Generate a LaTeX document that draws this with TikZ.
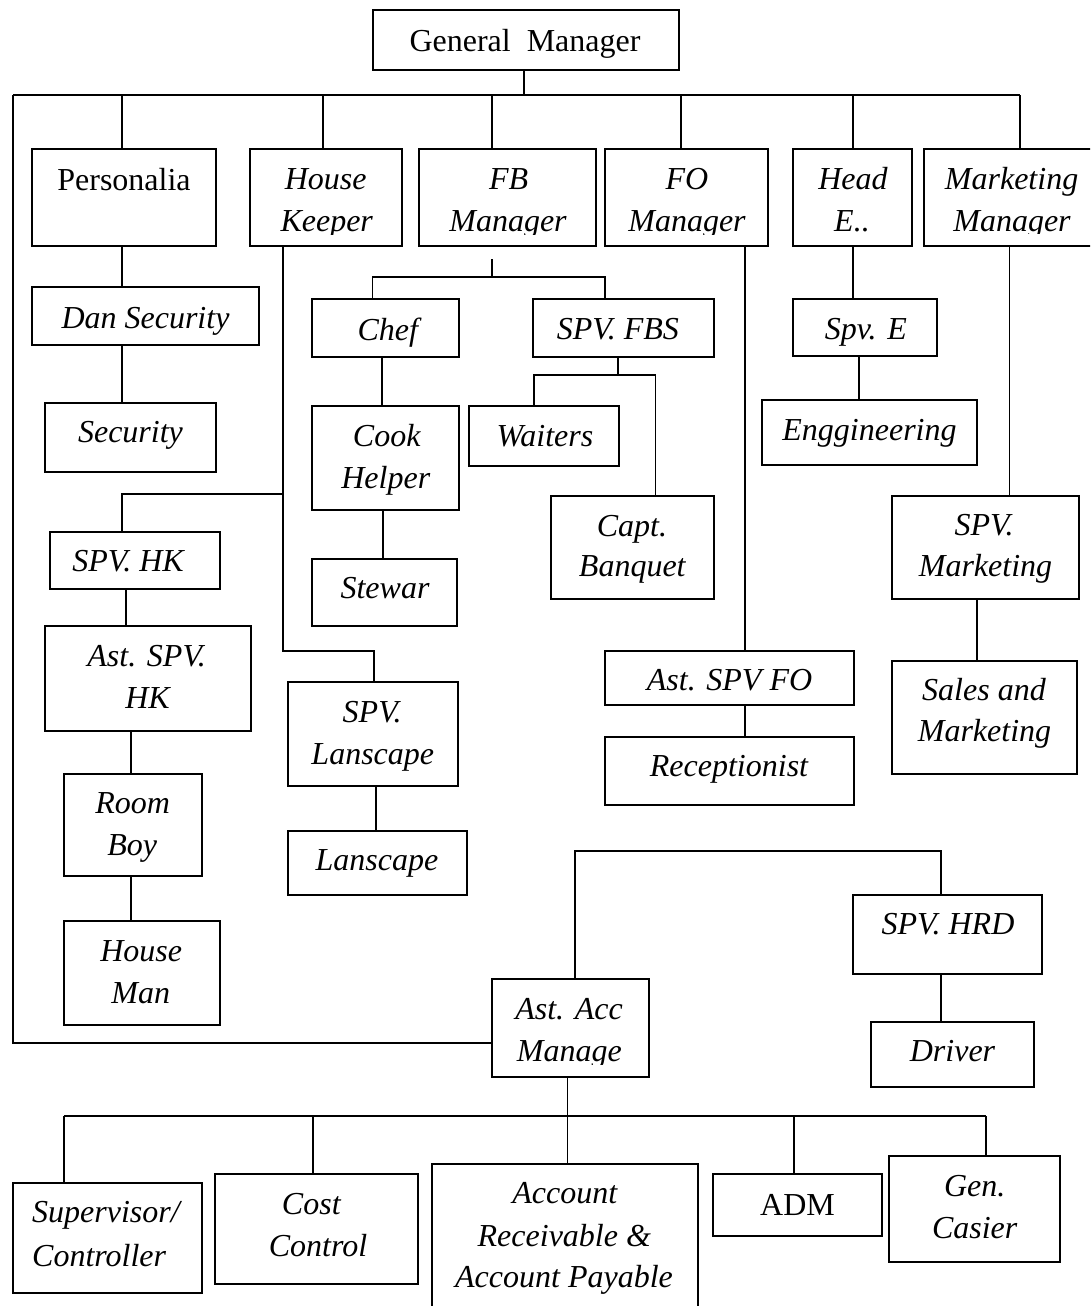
\documentclass[tikz,border=0pt]{standalone}
\usepackage{fontspec}
\setmainfont{Liberation Serif}
\usetikzlibrary{fit}
\tikzset{
  bx/.style={draw, line width=2pt, inner sep=0pt},
  ln/.style={line width=1.9pt},
  ti/.style={inner sep=0pt, anchor=base, font=\fontsize{32}{40}\selectfont\itshape},
  tu/.style={inner sep=0pt, anchor=base, font=\fontsize{32}{40}\selectfont},
}
\newcommand\obox[5]{\node[bx, fit={(#2,#3) (#4,#5)}] (#1) {};}
\newcommand\itx[4]{\node[ti] (#1) at (#2,#3) {#4};}
\newcommand\ctx[5]{\begin{scope}\clip ({#2-110},{#3-40}) rectangle ({#2+110},#5);\node[ti] (#1) at (#2,#3) {#4};\end{scope}}
\begin{document}
\begin{tikzpicture}[x=1pt,y=-1pt]
\useasboundingbox (0,0) rectangle (1090,1306);
\clip (0,0) rectangle (1090,1306);
% ---------- boxes ----------
\obox{gm}{372.6}{10.3}{679.2}{69.7}
\obox{pers}{31.6}{149}{215.5}{246}
\obox{hk}{250.3}{149}{401.5}{246}
\obox{fb}{419}{149}{596.4}{246}
\obox{fo}{604.8}{149}{767.8}{246}
\obox{he}{793.2}{149}{911.7}{246}
\obox{mkt}{924}{149}{1100}{246}
\obox{dsec}{31.7}{287.3}{259}{344.7}
\obox{sec}{45.3}{403}{215.7}{472.3}
\obox{chef}{312.3}{299.3}{458.7}{356.7}
\obox{fbs}{533.3}{299.3}{714}{356.7}
\obox{spve}{793.3}{299.3}{937}{356.3}
\obox{cook}{312.3}{406.3}{458.7}{510.3}
\obox{waiters}{469.3}{406.3}{619}{465.7}
\obox{engg}{762.3}{399.8}{977.3}{465.4}
\obox{capt}{550.7}{495.7}{714}{599}
\obox{spvmkt}{891.7}{495.5}{1079}{599}
\obox{spvhk}{49.7}{531.7}{220}{589}
\obox{stewar}{312.3}{559}{456.7}{626.3}
\obox{astspvhk}{45.3}{626.3}{250.7}{730.7}
\obox{astfo}{604.7}{650.6}{854}{704.6}
\obox{sales}{891.7}{661.4}{1077.3}{773.7}
\obox{spvlan}{288.3}{682}{458.3}{785.7}
\obox{recep}{604.7}{736.8}{854}{804.7}
\obox{roomboy}{63.7}{773.7}{201.7}{876}
\obox{lan}{288.3}{830.7}{467.3}{895}
\obox{housem}{63.7}{921}{220}{1024.7}
\obox{spvhrd}{853.3}{894.7}{1042.2}{974.3}
\obox{aam}{491.7}{979.3}{648.8}{1076.7}
\obox{driver}{870.8}{1021.7}{1033.7}{1086.7}
\obox{sup}{12.7}{1183.3}{201.7}{1293.3}
\obox{cost}{215}{1174}{417.7}{1284}
\obox{acct}{431.7}{1164}{698.3}{1340}
\obox{adm}{713.3}{1174}{882}{1235.7}
\obox{gen}{889}{1155.7}{1059.7}{1261.7}
% ---------- texts ----------
\node[tu] (gm-t) at (525,51.7) {General~ Manager};
\node[tu] (pers-t) at (124,190) {Personalia};
\itx{hk-t1}{325.7}{189.5}{House}
\ctx{hk-t2}{326.7}{231.5}{Keeper}{234}
\itx{fb-t1}{508.7}{189.5}{FB}
\ctx{fb-t2}{508}{231.5}{Manager}{234}
\itx{fo-t1}{687}{189.5}{FO}
\ctx{fo-t2}{687}{231.5}{Manager}{234}
\itx{he-t1}{853}{189.5}{Head}
\itx{he-t2}{852}{231.5}{E..}
\itx{mkt-t1}{1011.6}{189.5}{Marketing}
\ctx{mkt-t2}{1012}{231}{Manager}{233.5}
\itx{dsec-t}{145.5}{328.7}{Dan Security}
\itx{sec-t}{130.5}{442.7}{Security}
\itx{chef-t}{387.8}{340}{Chef}
\itx{fbs-t}{617.8}{339.3}{SPV. FBS}
\itx{spve-t}{865.8}{339.4}{Spv. E}
\itx{cook-t1}{386.7}{446}{Cook}
\itx{cook-t2}{385.8}{488.3}{Helper}
\itx{waiters-t}{545}{446.7}{Waiters}
\itx{engg-t}{869.5}{440.5}{Enggineering}
\itx{capt-t1}{632}{536}{Capt.}
\itx{capt-t2}{632.3}{576.7}{Banquet}
\itx{spvmkt-t1}{984}{535.2}{SPV.}
\itx{spvmkt-t2}{985.5}{576.2}{Marketing}
\itx{spvhk-t}{128}{571.7}{SPV. HK}
\itx{stewar-t}{385}{598.7}{Stewar}
\itx{astspvhk-t1}{146.7}{666.7}{Ast. SPV.}
\itx{astspvhk-t2}{147.5}{708.3}{HK}
\itx{astfo-t}{729.5}{690.2}{Ast. SPV FO}
\itx{sales-t1}{984}{700.7}{Sales and}
\itx{sales-t2}{984.5}{741}{Marketing}
\itx{spvlan-t1}{372.2}{722.3}{SPV.}
\itx{spvlan-t2}{372.8}{764}{Lanscape}
\itx{recep-t}{729}{776.1}{Receptionist}
\itx{roomboy-t1}{132.7}{813.3}{Room}
\itx{roomboy-t2}{132.3}{855}{Boy}
\itx{lan-t}{377}{870}{Lanscape}
\itx{housem-t1}{141.2}{961.7}{House}
\itx{housem-t2}{140.8}{1003.3}{Man}
\itx{spvhrd-t}{948}{934}{SPV. HRD}
\itx{aam-t1}{569}{1019}{Ast. Acc}
\ctx{aam-t2}{569.4}{1061}{Manage}{1064}
\itx{driver-t}{952.5}{1061}{Driver}
\node[ti, anchor=base west] (sup-t1) at (32,1222.7) {Supervisor/};
\node[ti, anchor=base west] (sup-t2) at (32,1266.7) {Controller};
\itx{cost-t1}{311.3}{1214.3}{Cost}
\itx{cost-t2}{318}{1256}{Control}
\itx{acct-t1}{564.7}{1203.3}{Account}
\itx{acct-t2}{564.3}{1246.7}{Receivable \&}
\itx{acct-t3}{564}{1287.3}{Account Payable}
\node[tu] (adm-t) at (797.5,1215) {ADM};
\itx{gen-t1}{974.7}{1196}{Gen.}
\itx{gen-t2}{974.7}{1238.3}{Casier}
% ---------- connectors ----------
\coordinate (busL) at (13,95.3);
\coordinate (busR) at (1019.8,95.3);
\draw[ln] (524,0 |- gm.south) -- (524,0 |- busL);
\draw[ln] (busL) -- (busR);
\foreach \x/\n in {122.3/pers, 323/hk, 491.8/fb, 680.9/fo, 853.3/he}
  \draw[ln] (\x,0 |- busL) -- (\x,0 |- \n.north);
\draw[ln] (busR) -- (busR |- mkt.north);
\draw[ln] (busL) -- (busL |- 0,1043.3) -- (aam.west |- 0,1043.3);
% Personalia branch
\draw[ln] (122.3,0 |- pers.south) -- (122.3,0 |- dsec.north);
\draw[ln] (122.3,0 |- dsec.south) -- (122.3,0 |- sec.north);
% House Keeper branch
\coordinate (hkJ) at (283.3,493.7);
\coordinate (hkL) at (283.3,650.7);
\draw[ln] (283.3,0 |- hk.south) -- (hkL) -- (hkL -| 374.3,0) -- (374.3,0 |- spvlan.north);
\draw[ln] (hkJ) -- (hkJ -| 122.3,0) -- (122.3,0 |- spvhk.north);
\draw[ln] (126,0 |- spvhk.south) -- (126,0 |- astspvhk.north);
\draw[ln] (131,0 |- astspvhk.south) -- (131,0 |- roomboy.north);
\draw[ln] (131,0 |- roomboy.south) -- (131,0 |- housem.north);
\draw[ln] (376,0 |- spvlan.south) -- (376,0 |- lan.north);
% FB branch
\coordinate (fbS) at (491.8,259.3);
\coordinate (fbJ) at (491.8,277.3);
\draw[ln] (fbS) -- (fbJ);
\draw[ln] (372.5,0 |- chef.north) -- (372.5,0 |- fbJ) -- (605,0 |- fbJ) -- (605,0 |- fbs.north);
\draw[ln] (382,0 |- chef.south) -- (382,0 |- cook.north);
\draw[ln] (383.3,0 |- cook.south) -- (383.3,0 |- stewar.north);
\coordinate (fbsJ) at (618.3,374.7);
\draw[ln] (618.3,0 |- fbs.south) -- (fbsJ);
\draw[ln] (534,0 |- waiters.north) -- (534,0 |- fbsJ) -- (655.5,0 |- fbsJ) -- (655.5,0 |- capt.north);
% FO branch
\draw[ln] (745,0 |- fo.south) -- (745,0 |- astfo.north);
\draw[ln] (745,0 |- astfo.south) -- (745,0 |- recep.north);
% Head E branch
\draw[ln] (853.3,0 |- he.south) -- (853.3,0 |- spve.north);
\draw[ln] (858.7,0 |- spve.south) -- (858.7,0 |- engg.north);
% Marketing branch
\draw[ln] (1009.5,0 |- mkt.south) -- (1009.5,0 |- spvmkt.north);
\draw[ln] (977,0 |- spvmkt.south) -- (977,0 |- sales.north);
% Accounting
\draw[ln] (575,0 |- aam.north) -- (575,851) -- (941,851) -- (941,0 |- spvhrd.north);
\draw[ln] (941,0 |- spvhrd.south) -- (941,0 |- driver.north);
\coordinate (accJ) at (567.5,1116);
\draw[ln] (567.5,0 |- aam.south) -- (accJ);
\draw[ln] (64,1116) -- (985.7,1116);
\foreach \x/\n in {64/sup, 312.7/cost, 567.5/acct, 793.7/adm, 985.7/gen}
  \draw[ln] (\x,0 |- accJ) -- (\x,0 |- \n.north);
\end{tikzpicture}
\end{document}
